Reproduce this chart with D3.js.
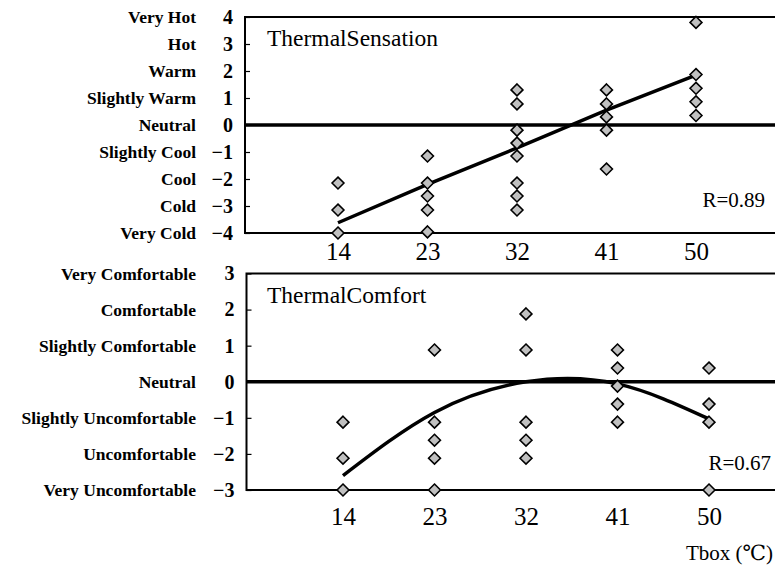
<!DOCTYPE html>
<html>
<head>
<meta charset="utf-8">
<script src="https://cdn.jsdelivr.net/npm/d3@7"></script>
<style>
  html, body { margin: 0; padding: 0; background: #fff; }
  svg { display: block; }
  text { font-family: "Liberation Serif", "DejaVu Serif", serif; fill: #000; }
</style>
</head>
<body>
<svg id="chart" width="775" height="566"></svg>
<script>
// Box temperature settings (°C)
const temps = [14, 23, 32, 41, 50];

// Thermal sensation votes at each temperature
const sensationVotes = [
  [-2.15, -3.15, -4.0],
  [-1.15, -2.15, -2.63, -3.15, -3.96],
  [1.3, 0.78, -0.19, -0.67, -1.15, -2.15, -2.63, -3.15],
  [1.3, 0.78, 0.3, -0.19, -1.63],
  [3.8, 1.87, 1.36, 0.86, 0.35]
];
// Linear regression line for sensation
const sensationFit = [-3.62, -2.2, -0.85, 0.55, 1.85];
const sensationTicks = [4, 3, 2, 1, 0, -1, -2, -3, -4];
const sensationNames = ["Very Hot", "Hot", "Warm", "Slightly Warm", "Neutral",
  "Slightly Cool", "Cool", "Cold", "Very Cold"];

// Thermal comfort votes at each temperature
const comfortVotes = [
  [-1.12, -2.12, -3],
  [0.88, -1.12, -1.62, -2.12, -3],
  [1.88, 0.88, -1.12, -1.62, -2.12],
  [0.88, 0.38, -0.12, -0.62, -1.12],
  [0.38, -0.62, -1.12, -3]
];
// Quadratic regression curve for comfort
const comfortFit = [-2.6, -0.85, 0.0, -0.06, -1.03];
const comfortTicks = [3, 2, 1, 0, -1, -2, -3];
const comfortNames = ["Very Comfortable", "Comfortable", "Slightly Comfortable", "Neutral",
  "Slightly Uncomfortable", "Uncomfortable", "Very Uncomfortable"];

const svg = d3.select("#chart");
const diamond = d3.symbol().type(d3.symbolDiamond2).size(90);

function panel(cfg) {
  const { x, y, left, votes, fit, ticks, names, title, rText, rPos, curve, xLabelY } = cfg;
  const g = svg.append("g");
  const [top, bottom] = [y.range()[1], y.range()[0]];
  const right = 800;

  // Frame
  g.append("rect")
    .attr("x", left).attr("y", top)
    .attr("width", right - left).attr("height", bottom - top)
    .attr("fill", "none").attr("stroke", "#000").attr("stroke-width", 2);

  // Y axis with inward ticks
  const yAxis = d3.axisLeft(y).tickValues(ticks).tickSizeInner(-5).tickSizeOuter(0)
    .tickPadding(12).tickFormat(d => d < 0 ? "\u2212" + Math.abs(d) : d);
  const ya = g.append("g").attr("transform", `translate(${left},0)`).call(yAxis);
  ya.select(".domain").remove();
  ya.selectAll("line").attr("stroke", "#000").attr("stroke-width", 1.2);
  ya.selectAll("text").attr("font-size", 20).attr("font-weight", "bold")
    .attr("font-family", "'Liberation Serif', serif");

  // Verbal scale names
  g.selectAll(".name").data(ticks).join("text")
    .attr("x", 196).attr("y", d => y(d)).attr("dy", "0.35em")
    .attr("text-anchor", "end").attr("font-size", 17.5).attr("font-weight", "bold")
    .text((d, i) => names[i]);

  // X axis labels
  const xAxis = d3.axisBottom(x).tickValues(temps).tickSize(0).tickPadding(xLabelY);
  const xa = g.append("g").attr("transform", `translate(0,${bottom})`).call(xAxis);
  xa.select(".domain").remove();
  xa.selectAll("text").attr("font-size", 25).attr("font-family", "'Liberation Serif', serif");

  // Neutral line
  g.append("line").attr("x1", left).attr("x2", right)
    .attr("y1", y(0)).attr("y2", y(0)).attr("stroke", "#000").attr("stroke-width", 3.5);

  // Regression line
  const line = d3.line().x((d, i) => x(temps[i])).y(d => y(d)).curve(curve);
  g.append("path").datum(fit).attr("d", line)
    .attr("fill", "none").attr("stroke", "#000").attr("stroke-width", 3.5);

  // Vote markers
  const pts = votes.flatMap((col, i) => col.map(v => ({ t: temps[i], v })));
  g.selectAll(".pt").data(pts).join("path")
    .attr("d", diamond)
    .attr("transform", d => `translate(${x(d.t)},${y(d.v)})`)
    .attr("fill", "#c0c0c0").attr("stroke", "#000").attr("stroke-width", 1.6);

  g.append("text").attr("x", 267).attr("y", top + 21).attr("dy", "0.35em")
    .attr("font-size", 23.5).text(title);
  g.append("text").attr("x", rPos[0]).attr("y", rPos[1]).attr("dy", "0.35em")
    .attr("text-anchor", "end").attr("font-size", 21).text(rText);
}

panel({
  x: d3.scaleLinear([14, 50], [338, 696]),
  y: d3.scaleLinear([-4, 4], [233, 17]),
  left: 245, votes: sensationVotes, fit: sensationFit,
  ticks: sensationTicks, names: sensationNames,
  title: "ThermalSensation", rText: "R=0.89", rPos: [765, 200],
  curve: d3.curveLinear, xLabelY: 9
});

panel({
  x: d3.scaleLinear([14, 50], [343, 709]),
  y: d3.scaleLinear([-3, 3], [490, 273.5]),
  left: 246.5, votes: comfortVotes, fit: comfortFit,
  ticks: comfortTicks, names: comfortNames,
  title: "ThermalComfort", rText: "R=0.67", rPos: [771, 463],
  curve: d3.curveNatural, xLabelY: 17
});

svg.append("text").attr("x", 773).attr("y", 553).attr("dy", "0.35em")
  .attr("text-anchor", "end").attr("font-size", 21).text("Tbox (\u2103)");
</script>
</body>
</html>
